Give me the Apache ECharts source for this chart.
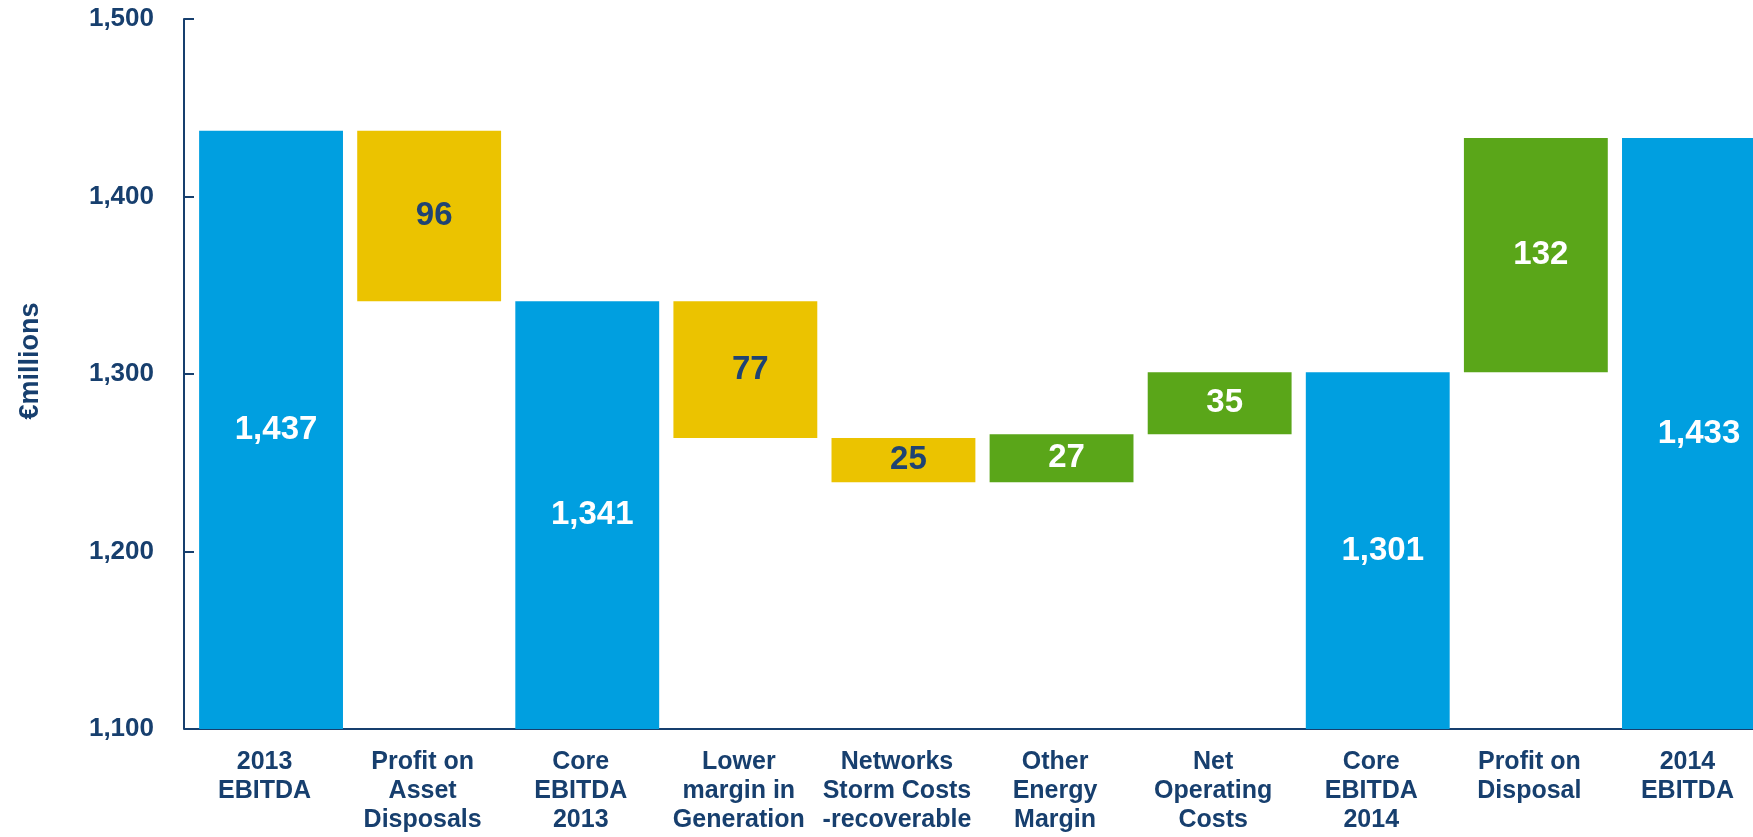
<!DOCTYPE html>
<html>
<head>
<meta charset="utf-8">
<title>EBITDA bridge 2013 to 2014</title>
<script src="https://cdn.jsdelivr.net/npm/echarts@6/dist/echarts.min.js"></script>
<style>
  html, body { margin: 0; padding: 0; background: #ffffff; }
  #chart { width: 1753px; height: 837px; }
</style>
</head>
<body>
<div id="chart"></div>
<script>
// Bridge steps, € millions
const categories = [
  '2013\nEBITDA',
  'Profit on\nAsset\nDisposals',
  'Core\nEBITDA\n2013',
  'Lower\nmargin in\nGeneration',
  'Networks\nStorm Costs\n-recoverable',
  'Other\nEnergy\nMargin',
  'Net\nOperating\nCosts',
  'Core\nEBITDA\n2014',
  'Profit on\nDisposal',
  '2014\nEBITDA'
];
// totals are absolute levels, other steps are signed changes
const stepValues = [1437, -96, 1341, -77, -25, 27, 35, 1301, 132, 1433];
const stepKinds = ['total', 'down', 'total', 'down', 'down', 'up', 'up', 'total', 'up', 'total'];

const yMin = 1100;
const yMax = 1500;
const yStep = 100;

const NAVY = '#173F6E';
const COLORS = { total: '#009FE0', down: '#EBC300', up: '#5AA619' };
const LABEL_COLORS = { total: '#FFFFFF', down: '#1F4373', up: '#FFFFFF' };
const FONT = '"Liberation Sans", Arial, Helvetica, sans-serif';

// Running level: invisible base + visible step
const baseData = [];
const stepData = [];
let level = 0;
stepValues.forEach((v, i) => {
  const kind = stepKinds[i];
  let base, height;
  if (kind === 'total') {
    level = v;
    base = yMin;
    height = v - yMin;
  } else if (kind === 'down') {
    level += v;
    base = level;
    height = -v;
  } else {
    base = level;
    level += v;
    height = v;
  }
  baseData.push(base);
  stepData.push({
    value: height,
    shown: Math.abs(v),
    itemStyle: { color: COLORS[kind] },
    label: { color: LABEL_COLORS[kind] }
  });
});

const fmt = n => n.toLocaleString('en-US');

const chart = echarts.init(document.getElementById('chart'), null, { renderer: 'canvas' });
chart.setOption({
  animation: false,
  backgroundColor: '#ffffff',
  grid: {
    left: 192, right: -20, top: 19, bottom: 108,
    containLabel: false,
    outerBoundsMode: 'none'
  },
  xAxis: {
    type: 'category',
    data: categories,
    axisLine: { lineStyle: { color: NAVY, width: 2 } },
    axisTick: { show: false },
    axisLabel: {
      interval: 0,
      color: NAVY,
      fontFamily: FONT,
      fontWeight: 'bold',
      fontSize: 25,
      lineHeight: 29,
      margin: 19,
      // captions sit slightly left of their bars
      padding: [0, 13, 0, 0]
    }
  },
  yAxis: {
    type: 'value',
    min: yMin,
    max: yMax,
    interval: yStep,
    offset: 8,
    name: '€millions',
    nameLocation: 'middle',
    nameRotate: 90,
    nameGap: 140,
    nameTextStyle: {
      color: NAVY,
      fontFamily: FONT,
      fontWeight: 'bold',
      fontSize: 27,
      padding: [0, 0, 0, 26]
    },
    axisLine: { show: true, lineStyle: { color: NAVY, width: 2 } },
    axisTick: { show: true, inside: true, length: 10, lineStyle: { color: NAVY, width: 2 } },
    splitLine: { show: false },
    axisLabel: {
      color: NAVY,
      fontFamily: FONT,
      fontWeight: 'bold',
      fontSize: 26,
      margin: 30,
      formatter: v => fmt(v)
    }
  },
  series: [
    {
      name: 'base',
      type: 'bar',
      stack: 'bridge',
      barCategoryGap: '9%',
      itemStyle: { color: 'transparent' },
      emphasis: { disabled: true },
      silent: true,
      data: baseData
    },
    {
      name: 'step',
      type: 'bar',
      stack: 'bridge',
      barCategoryGap: '9%',
      label: {
        show: true,
        position: 'inside',
        offset: [5, 0],
        fontFamily: FONT,
        fontWeight: 'bold',
        fontSize: 33,
        formatter: p => fmt(p.data.shown)
      },
      data: stepData
    }
  ]
});
</script>
</body>
</html>
